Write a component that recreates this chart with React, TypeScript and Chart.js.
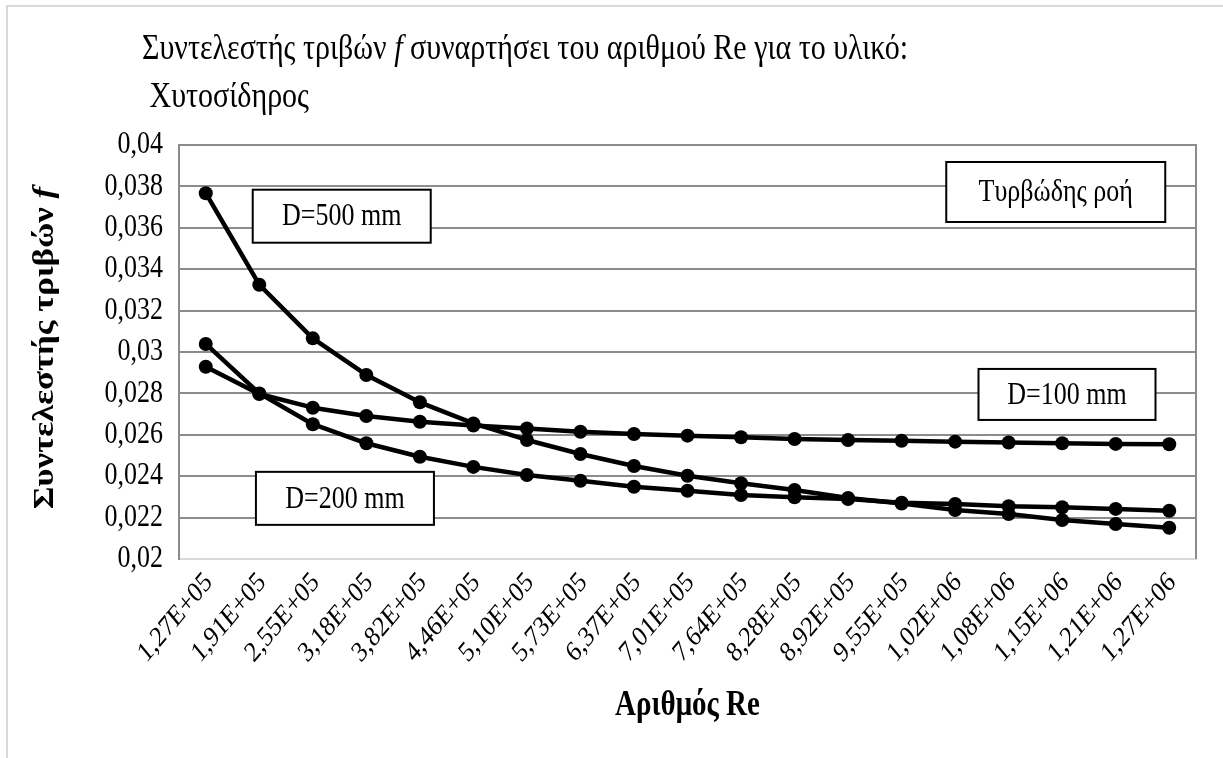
import React, { useEffect, useRef } from 'react';
import { Chart, registerables } from 'chart.js';

Chart.register(...registerables);

const categories = [
  '1,27E+05', '1,91E+05', '2,55E+05', '3,18E+05', '3,82E+05', '4,46E+05', '5,10E+05',
  '5,73E+05', '6,37E+05', '7,01E+05', '7,64E+05', '8,28E+05', '8,92E+05', '9,55E+05',
  '1,02E+06', '1,08E+06', '1,15E+06', '1,21E+06', '1,27E+06',
];

const fD100 = [
  0.02929, 0.02797, 0.02731, 0.02691, 0.02663, 0.02645, 0.02631, 0.02615, 0.02604, 0.02596,
  0.02588, 0.0258, 0.02575, 0.02571, 0.02567, 0.02563, 0.02559, 0.02556, 0.02554,
];

const fD200 = [
  0.03039, 0.028, 0.02651, 0.02559, 0.02494, 0.02445, 0.02406, 0.02378, 0.02349, 0.0233,
  0.02309, 0.02298, 0.0229, 0.02272, 0.02266, 0.02255, 0.0225, 0.02242, 0.02233,
];

const fD500 = [
  0.03767, 0.03325, 0.03066, 0.02889, 0.02757, 0.02655, 0.02575, 0.02507, 0.02449, 0.02402,
  0.02366, 0.02333, 0.02295, 0.02268, 0.02237, 0.02217, 0.02188, 0.02169, 0.02151,
];

const yTickLabels = ['0,02', '0,022', '0,024', '0,026', '0,028', '0,03', '0,032', '0,034', '0,036', '0,038', '0,04'];

const titleLine1 = ['Συντελεστής τριβών ', 'f', ' συναρτήσει του αριθμού Re για το υλικό:'];
const titleLine2 = ' Χυτοσίδηρος';
const yTitle = ['Συντελεστής τριβών ', 'f'];
const xTitle = 'Αριθμός Re';

const noteTexts = ['D=500 mm', 'D=200 mm', 'D=100 mm', 'Τυρβώδης ροή'];
const noteAnchorsX = [2.54, 2.6, 16.09, 15.88];
const noteAnchorsY = [0.03656, 0.02293, 0.02795, 0.03773];

const SERIF = "'Liberation Serif', 'Times New Roman', serif";
const SY = 1.2; // vertical stretch of all text, as in the reference
const noteSizes = [
  [178, 53],
  [178, 53],
  [177, 51],
  [219, 60],
];

function stretchedText(
  ctx: CanvasRenderingContext2D,
  text: string,
  x: number,
  y: number,
  font: string,
  align: CanvasTextAlign,
  baseline: CanvasTextBaseline,
  rot = 0,
) {
  ctx.save();
  ctx.translate(x, y);
  ctx.scale(1, SY);
  if (rot) ctx.rotate(rot);
  ctx.font = font;
  ctx.textAlign = align;
  ctx.textBaseline = baseline;
  ctx.fillText(text, 0, 0);
  ctx.restore();
}

const decorPlugin = {
  id: 'decor',
  beforeDraw(chart: any) {
    const ctx = chart.ctx;
    ctx.save();
    ctx.fillStyle = '#ffffff';
    ctx.fillRect(0, 0, chart.width, chart.height);
    ctx.strokeStyle = '#d9d9d9';
    ctx.lineWidth = 2;
    ctx.beginPath();
    ctx.moveTo(7, chart.height + 5);
    ctx.lineTo(7, 6);
    ctx.lineTo(chart.width + 5, 6);
    ctx.stroke();
    ctx.restore();
  },
  beforeDatasetsDraw(chart: any) {
    const ctx = chart.ctx;
    const a = chart.chartArea;
    ctx.save();
    ctx.strokeStyle = '#8c8c8c';
    ctx.lineWidth = 2;
    ctx.beginPath();
    ctx.moveTo(a.right, a.top - 1);
    ctx.lineTo(a.right, a.bottom);
    ctx.stroke();
    ctx.restore();
  },
  afterDatasetsDraw(chart: any) {
    const ctx = chart.ctx;
    const xs = chart.scales.x;
    const ys = chart.scales.y;
    ctx.save();
    noteTexts.forEach((t, i) => {
      const cx = xs.getPixelForValue(noteAnchorsX[i]);
      const cy = ys.getPixelForValue(noteAnchorsY[i]);
      const [w, h] = noteSizes[i];
      ctx.fillStyle = '#ffffff';
      ctx.fillRect(cx - w / 2, cy - h / 2, w, h);
      ctx.strokeStyle = '#000000';
      ctx.lineWidth = 2;
      ctx.strokeRect(cx - w / 2, cy - h / 2, w, h);
      ctx.fillStyle = '#000000';
      stretchedText(ctx, t, cx, cy + 1, `26px ${SERIF}`, 'center', 'middle');
    });
    ctx.restore();
  },
  afterDraw(chart: any) {
    const ctx = chart.ctx;
    const a = chart.chartArea;
    const xs = chart.scales.x;
    const ys = chart.scales.y;
    ctx.save();
    ctx.fillStyle = '#000000';

    // y tick labels
    ys.ticks.forEach((_t: any, i: number) => {
      const py = ys.getPixelForTick(i);
      stretchedText(ctx, yTickLabels[i], a.left - 16, py, `26px ${SERIF}`, 'right', 'middle');
    });

    // x tick labels, rotated 45°
    categories.forEach((c, i) => {
      const px = xs.getPixelForTick(i);
      stretchedText(ctx, c, px + 3, a.bottom + 19, `24px ${SERIF}`, 'right', 'middle', -Math.PI / 4);
    });

    // Title
    const fonts1 = [`30px ${SERIF}`, `italic 30px ${SERIF}`, `30px ${SERIF}`];
    ctx.save();
    ctx.translate(142, 59);
    ctx.scale(1, SY);
    ctx.textAlign = 'left';
    ctx.textBaseline = 'alphabetic';
    let x = 0;
    titleLine1.forEach((s, i) => {
      ctx.font = fonts1[i];
      ctx.fillText(s, x, 0);
      x += ctx.measureText(s).width;
    });
    ctx.restore();
    stretchedText(ctx, titleLine2, 142, 107, `30px ${SERIF}`, 'left', 'alphabetic');

    // X axis title
    stretchedText(ctx, xTitle, (a.left + a.right) / 2, 706, `bold 29px ${SERIF}`, 'center', 'middle');

    // Y axis title
    const yFonts = [`bold 29px ${SERIF}`, `bold italic 29px ${SERIF}`];
    let total = 0;
    yTitle.forEach((s, i) => {
      ctx.font = yFonts[i];
      total += ctx.measureText(s).width;
    });
    ctx.save();
    ctx.translate(46, (a.top + a.bottom) / 2 - 4);
    ctx.scale(1, SY);
    ctx.rotate(-Math.PI / 2);
    ctx.textAlign = 'left';
    ctx.textBaseline = 'middle';
    let px = -total / 2;
    yTitle.forEach((s, i) => {
      ctx.font = yFonts[i];
      ctx.fillText(s, px, 0);
      px += ctx.measureText(s).width;
    });
    ctx.restore();
    ctx.restore();
  },
};

export default function App() {
  const ref = useRef<HTMLCanvasElement | null>(null);
  useEffect(() => {
    if (!ref.current) return;
    const series = [fD500, fD200, fD100];
    const chart = new Chart(ref.current, {
      type: 'line',
      data: {
        labels: categories,
        datasets: series.map((d, i) => ({
          label: ['D=500 mm', 'D=200 mm', 'D=100 mm'][i],
          data: d,
          borderColor: '#000000',
          backgroundColor: '#000000',
          borderWidth: 4.5,
          pointRadius: 7,
          pointBorderWidth: 0,
          pointBackgroundColor: '#000000',
          tension: 0,
          borderJoinStyle: 'round',
        })),
      },
      options: {
        responsive: false,
        animation: false,
        devicePixelRatio: 1,
        layout: { padding: { top: 145, right: 27, left: 0, bottom: 0 } },
        plugins: {
          legend: { display: false },
          title: { display: false },
          tooltip: { enabled: false },
        },
        scales: {
          x: {
            type: 'category',
            offset: true,
            grid: { display: false, drawTicks: false },
            border: { display: true, color: '#d9d9d9', width: 2 },
            ticks: { display: false, autoSkip: false },
            afterFit(scale: any) {
              scale.height = 199;
            },
          },
          y: {
            min: 0.02,
            max: 0.04,
            ticks: { display: false, stepSize: 0.002 },
            grid: {
              drawTicks: false,
              lineWidth: 2,
              color: (c: any) => (c.index === 0 ? '#d9d9d9' : '#8c8c8c'),
            },
            border: { display: true, color: '#8c8c8c', width: 2 },
            afterFit(scale: any) {
              scale.width = 179;
            },
          },
        },
      },
      plugins: [decorPlugin],
    });
    return () => chart.destroy();
  }, []);
  return (
    <div style={{ position: 'fixed', left: 0, top: 0, width: 1223, height: 758, background: '#fff' }}>
      <canvas ref={ref} width={1223} height={758} style={{ display: 'block' }} />
    </div>
  );
}
